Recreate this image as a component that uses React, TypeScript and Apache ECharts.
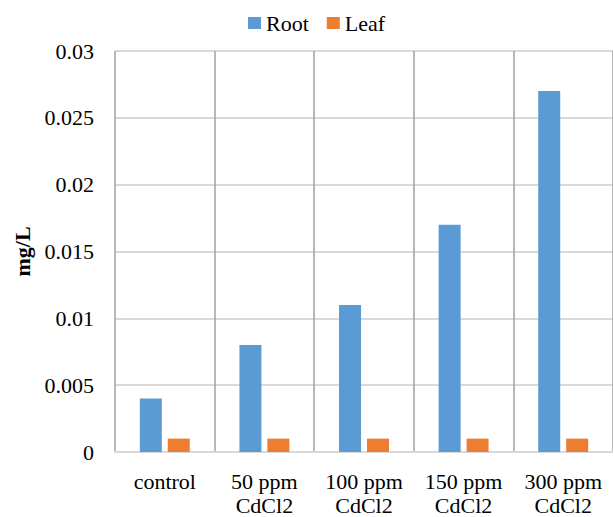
import React, { useEffect, useRef } from "react";
import * as echarts from "echarts";

// Cadmium content (mg/L) in root and leaf tissue per treatment
const categories = ["control", "50 ppm\nCdCl2", "100 ppm\nCdCl2", "150 ppm\nCdCl2", "300 ppm\nCdCl2"];
const rootValues = [0.004, 0.008, 0.011, 0.017, 0.027];
const leafValues = [0.001, 0.001, 0.001, 0.001, 0.001];
const seriesNames = ["Root", "Leaf"];
const seriesColors = ["#5B9BD5", "#ED7D31"];

const FONT = "Liberation Serif";

export default function App() {
  const ref = useRef<HTMLDivElement>(null);

  useEffect(() => {
    if (!ref.current) return;
    const chart = echarts.init(ref.current, undefined, { renderer: "svg" });
    chart.setOption({
      animation: false,
      backgroundColor: "#ffffff",
      textStyle: { fontFamily: FONT },
      legend: {
        data: seriesNames,
        left: 243,
        top: 7,
        itemWidth: 13,
        itemHeight: 12,
        itemGap: 18,
        icon: "rect",
        textStyle: { fontFamily: FONT, fontSize: 22, color: "#000" },
      },
      grid: { left: 115, right: -1, top: 51, bottom: 64, containLabel: false },
      xAxis: {
        type: "category",
        data: categories,
        boundaryGap: true,
        axisLine: { show: true, lineStyle: { color: "#d9d9d9", width: 2 } },
        axisTick: { show: false },
        splitLine: { show: true, lineStyle: { color: "#a0a0a0", width: 1.5 } },
        axisLabel: {
          fontFamily: FONT,
          fontSize: 22,
          color: "#000",
          margin: 17,
          lineHeight: 24,
          interval: 0,
        },
      },
      yAxis: {
        type: "value",
        min: 0,
        max: 0.03,
        interval: 0.005,
        name: "mg/L",
        nameLocation: "middle",
        nameGap: 75,
        nameTextStyle: { fontFamily: FONT, fontSize: 22, fontWeight: "bold", color: "#000" },
        axisLine: { show: false },
        axisTick: { show: false },
        splitLine: { show: true, lineStyle: { color: "#d9d9d9", width: 2 } },
        axisLabel: {
          fontFamily: FONT,
          fontSize: 22,
          color: "#000",
          margin: 21,
          formatter: (v: number) => String(+v.toFixed(3)),
        },
      },
      series: [
        {
          name: seriesNames[0],
          type: "bar",
          data: rootValues,
          barWidth: 22,
          barGap: "27%",
          itemStyle: { color: seriesColors[0] },
        },
        {
          name: seriesNames[1],
          type: "bar",
          data: leafValues,
          barWidth: 22,
          barGap: "27%",
          itemStyle: { color: seriesColors[1] },
        },
      ],
    });
    return () => chart.dispose();
  }, []);

  return (
    <div
      ref={ref}
      style={{ position: "fixed", left: 0, top: 0, width: 613, height: 517, background: "#fff" }}
    />
  );
}
